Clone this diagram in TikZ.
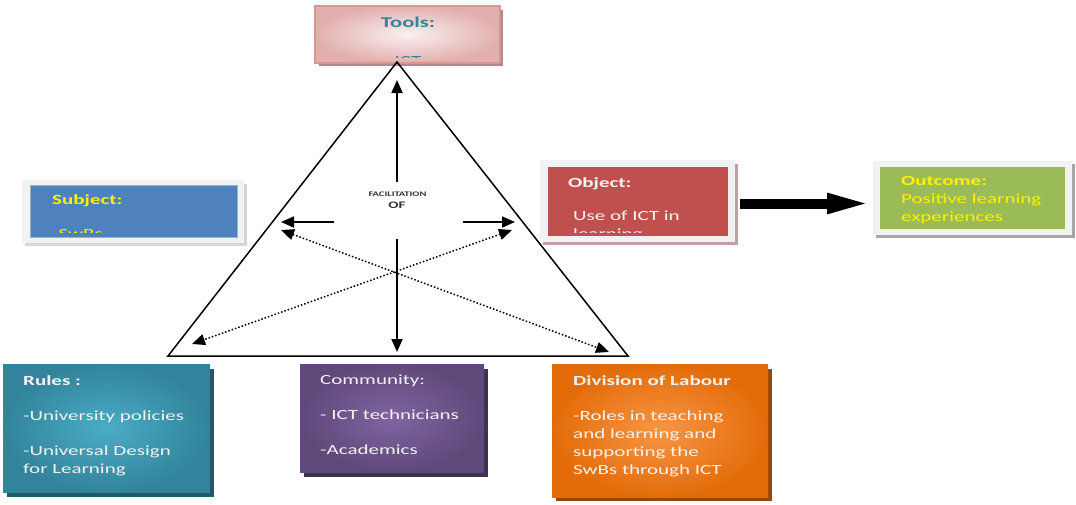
\documentclass[tikz,border=0pt]{standalone}
\usepackage{fontspec}
\setmainfont{Carlito}[FakeStretch=1.5]
\usetikzlibrary{arrows.meta}
\definecolor{toolsedge}{HTML}{D99594}
\definecolor{toolsin}{HTML}{FAF0F0}
\definecolor{toolsshadow}{HTML}{B08A8A}
\definecolor{toolstext}{HTML}{31849B}
\definecolor{subjblue}{HTML}{4F81BD}
\definecolor{objred}{HTML}{C0504D}
\definecolor{outgreen}{HTML}{9BBB59}
\definecolor{frame}{HTML}{F2F2F2}
\definecolor{greyshadow}{HTML}{A6A6A6}
\definecolor{tealedge}{HTML}{31849B}
\definecolor{tealin}{HTML}{4BACC6}
\definecolor{tealshadow}{HTML}{215968}
\definecolor{purpedge}{HTML}{5F497A}
\definecolor{purpin}{HTML}{8064A2}
\definecolor{purpshadow}{HTML}{3F3151}
\definecolor{orangeedge}{HTML}{E36C09}
\definecolor{orangein}{HTML}{F79646}
\definecolor{orangeshadow}{HTML}{974806}
\definecolor{lighttext}{HTML}{F2F2F2}
\begin{document}
\begin{tikzpicture}[x=1pt,y=-1pt,
  box/.style={anchor=north west, inner sep=0pt, outer sep=0pt},
  txt/.style={anchor=north west, inner sep=0pt, align=left, font=\fontsize{14}{18}\selectfont},
  arr/.style={line width=1.8pt, -{Triangle[length=13pt,width=11pt]}},
  darr/.style={line width=1.5pt, dotted, {Triangle[length=13pt,width=11pt]}-{Triangle[length=13pt,width=11pt]}},
]
\useasboundingbox (0,0) rectangle (1076,504);
\fill[white] (0,0) rectangle (1076,504);

% ---------- Tools ----------
\fill[toolsshadow] (319,10) rectangle (503,66);
\node[box, minimum width=185pt, minimum height=57pt, draw=toolsedge, line width=1.5pt,
  shade, inner color=toolsin, outer color=toolsedge!75] (tools) at (315,6) {};
\node[font=\fontsize{15}{18}\selectfont\bfseries, text=toolstext] (toolsT) at (408,22.5) {Tools:};
\begin{scope}
  \clip (315,6) rectangle (500,57.5);
  \node[font=\fontsize{14}{18}\selectfont, text=toolstext] (toolsI) at (408,61.5) {ICT};
\end{scope}

% ---------- Triangle ----------
\coordinate (apex) at (397,62);
\coordinate (bl) at (168,356);
\coordinate (br) at (628,356);
\draw[line width=1.5pt, line join=miter] (apex) -- (bl) -- (br) -- cycle;

\node[font=\fontsize{7}{8}\selectfont\bfseries, text=black!80] (facil) at (397.5,194) {FACILITATION};
\node[font=\fontsize{10}{12}\selectfont\bfseries, text=black!80] (of) at (397,205.5) {OF};

\coordinate (upS) at (397,182);
\coordinate (upE) at (397,80);
\coordinate (dnS) at (397,239);
\coordinate (dnE) at (397,352);
\coordinate (lS) at (334,222);
\coordinate (lE) at (281,222);
\coordinate (rS) at (463,222);
\coordinate (rE) at (515,222);
\draw[arr] (upS) -- (upE);
\draw[arr] (dnS) -- (dnE);
\draw[arr] (lS) -- (lE);
\draw[arr] (rS) -- (rE);

\coordinate (dA1) at (281,230);
\coordinate (dA2) at (609,352);
\coordinate (dB1) at (512,230);
\coordinate (dB2) at (192,344);
\draw[darr] (dA1) -- (dA2);
\draw[darr] (dB1) -- (dB2);

% ---------- Subject ----------
\fill[greyshadow!70!subjblue!40] (25,184) rectangle (247,246);
\node[box, minimum width=222pt, minimum height=63pt, fill=frame] (subjF) at (22,180) {};
\node[box, minimum width=207pt, minimum height=52pt, fill=subjblue, draw=subjblue!60, line width=0.6pt] (subj) at (30,185) {};
\node[txt, text=yellow, font=\fontsize{14}{18}\selectfont\bfseries] (subjT) at (52,194) {Subject:};
\begin{scope}
  \clip (30,185) rectangle (237,232);
  \node[txt, text=yellow] (subjS) at (52,229.5) {-SwBs};
\end{scope}

% ---------- Object ----------
\fill[toolsshadow!80] (543,164) rectangle (738,245);
\node[box, minimum width=195pt, minimum height=82pt, fill=frame] (objF) at (540,160) {};
\node[box, minimum width=180pt, minimum height=69pt, fill=objred] (obj) at (548,167) {};
\node[txt, text=lighttext, font=\fontsize{14}{18}\selectfont\bfseries] (objT) at (568,177) {Object:};
\begin{scope}
  \clip (548,167) rectangle (728,232);
  \node[txt, text=lighttext] (objU) at (573,211) {Use of ICT in\\learning};
\end{scope}

% ---------- Outcome ----------
\fill[greyshadow] (876,164) rectangle (1075,238);
\node[box, minimum width=199pt, minimum height=74pt, fill=frame] (outF) at (873,161) {};
\node[box, minimum width=185pt, minimum height=62pt, fill=outgreen] (out) at (880,167) {};
\node[txt, text=yellow] (outT) at (901,176.5) {\textbf{Outcome:}\\Positive learning\\experiences};

% ---------- Big arrow ----------
\coordinate (bigS) at (740,203.5);
\coordinate (bigE) at (873,203.5);
\draw[line width=10pt, -{Triangle[length=46pt,width=18pt]}] (bigS) -- (bigE);

% ---------- Rules ----------
\fill[tealshadow] (7,369) rectangle (214,497);
\node[box, minimum width=207pt, minimum height=128pt, shade, inner color=tealin, outer color=tealedge] (rules) at (3,364) {};
\node[txt, text=lighttext] (rulesT) at (23,375) {\textbf{Rules :}\\[17pt]-University policies\\[17pt]-Universal Design\\for Learning};

% ---------- Community ----------
\fill[purpshadow] (304,369) rectangle (488,477);
\node[box, minimum width=184pt, minimum height=108pt, shade, inner color=purpin, outer color=purpedge] (comm) at (300,364) {};
\node[txt, text=lighttext] (commT) at (320,375) {Community:\\[17pt]- ICT technicians\\[17pt]-Academics};

% ---------- Division of Labour ----------
\fill[orangeshadow] (556,369) rectangle (772,501);
\node[box, minimum width=216pt, minimum height=133pt, shade, inner color=orangein, outer color=orangeedge] (div) at (552,364) {};
\node[txt, text=lighttext] (divT) at (573,375) {\textbf{Division of Labour}\\[17pt]-Roles in teaching\\and learning and\\supporting the\\SwBs through ICT};

\end{tikzpicture}
\end{document}
